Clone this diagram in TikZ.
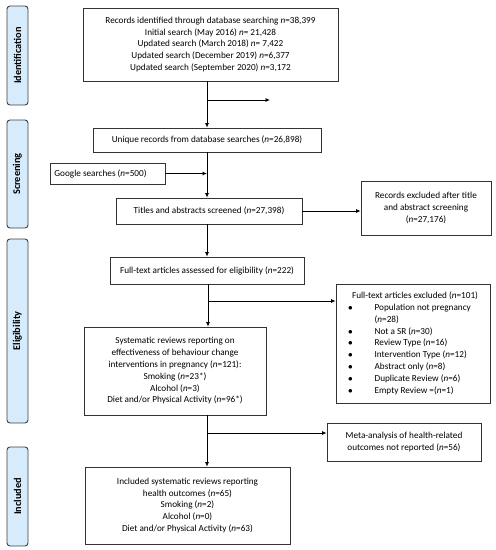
\documentclass[tikz,border=0pt]{standalone}
\usepackage{fontspec}
\setmainfont{Carlito}
\usetikzlibrary{arrows.meta}
\definecolor{sidefill}{RGB}{214,235,251}
\begin{document}
\begin{tikzpicture}[x=1pt,y=-1pt,
  box/.style={draw=black!80,line width=0.8pt,fill=white,align=center,inner sep=0pt,font=\fontsize{9.2}{11.8}\selectfont},
  side/.style={draw=black!75,line width=0.9pt,fill=sidefill,rounded corners=3pt},
  sidetext/.style={rotate=90,font=\fontsize{10.3}{12}\selectfont\bfseries},
  arr/.style={draw=black,line width=0.8pt,-{Latex[length=4.5pt,width=4pt]}},
  ln/.style={draw=black,line width=0.8pt}]
\useasboundingbox (0,0) rectangle (496,550);
% side bars
\draw[side] (7,6) rectangle (28,105);
\node[sidetext] (sidA) at (17.5,55.5) {Identification};
\draw[side] (7,120) rectangle (28,228);
\node[sidetext] (sidB) at (17.5,174) {Screening};
\draw[side] (7,239) rectangle (28,423);
\node[sidetext] (sidC) at (17.5,331) {Eligibility};
\draw[side] (7,447) rectangle (28,546);
\node[sidetext] (sidD) at (17.5,496.5) {Included};
% boxes
\node[box,minimum width=255pt,minimum height=73pt] (rec) at (210.5,44.5) {Records identified through database searching \textit{n}=38,399\\Initial search (May 2016) \textit{n}= 21,428\\Updated search (March 2018) \textit{n}= 7,422\\Updated search (December 2019) \textit{n}=6,377\\Updated search (September 2020) \textit{n}=3,172};
\node[box,minimum width=228pt,minimum height=24pt] (uni) at (207,140) {Unique records from database searches (\textit{n}=26,898)};
\node[box,minimum width=115pt,minimum height=21pt] (goo) at (107.5,173.5) {\hspace*{-14pt}Google searches (\textit{n}=500)};
\node[box,minimum width=186pt,minimum height=26pt] (tit) at (209,211) {Titles and abstracts screened (\textit{n}=27,398)};
\node[box,minimum width=130pt,minimum height=54pt] (exc) at (426,208) {Records excluded after title\\and abstract screening\\(\textit{n}=27,176)};
\node[box,minimum width=194pt,minimum height=27pt] (ful) at (207,270.5) {Full-text articles assessed for eligibility (\textit{n}=222)};
\node[box,minimum width=154pt,minimum height=119pt] (fex) at (413,343.5) {%
\begin{tabular}{@{}l@{\hspace{22pt}}l@{}}
\multicolumn{2}{@{}l@{}}{\hspace{4pt}Full-text articles excluded (\textit{n}=101)}\\
$\bullet$ & Population not pregnancy\\
 & (\textit{n}=28)\\
$\bullet$ & Not a SR (\textit{n}=30)\\
$\bullet$ & Review Type (\textit{n}=16)\\
$\bullet$ & Intervention Type (\textit{n}=12)\\
$\bullet$ & Abstract only (\textit{n}=8)\\
$\bullet$ & Duplicate Review (\textit{n}=6)\\
$\bullet$ & Empty Review =(\textit{n}=1)
\end{tabular}};
\node[box,minimum width=182pt,minimum height=88pt] (sys) at (175,371) {Systematic reviews reporting on\\effectiveness of behaviour change\\interventions in pregnancy (\textit{n}=121):\\Smoking (\textit{n}=23*)\\Alcohol (\textit{n}=3)\\Diet and/or Physical Activity (\textit{n}=96*)};
\node[box,minimum width=154pt,minimum height=38pt] (met) at (404,442) {Meta-analysis of health-related\\outcomes not reported (\textit{n}=56)};
\node[box,minimum width=205pt,minimum height=77pt] (inc) at (187.5,505.5) {Included systematic reviews reporting\\health outcomes (\textit{n}=65)\\Smoking (\textit{n}=2)\\Alcohol (\textit{n}=0)\\Diet and/or Physical Activity (\textit{n}=63)};
% connectors
\coordinate (j1) at (207,100);
\coordinate (e1) at (270,100);
\draw[arr] (rec.south -| j1) -- (uni.north -| j1);
\draw[arr] (j1) -- (e1);
\draw[arr] (goo.east) -- (207,173.5);
\draw[arr] (uni.south -| 207,0) -- (tit.north -| 207,0);
\draw[arr] (tit.east) -- (exc.west |- tit.east);
\draw[arr] (tit.south -| 207,0) -- (ful.north -| 207,0);
\coordinate (j2) at (208,301);
\draw[ln] (ful.south -| j2) -- (j2);
\draw[arr] (j2) -- (fex.west |- j2);
\draw[arr] (j2) -- (sys.north -| j2);
\coordinate (j3) at (207,433);
\draw[ln] (sys.south -| j3) -- (j3);
\draw[arr] (j3) -- (met.west |- j3);
\draw[arr] (j3) -- (inc.north -| j3);
\end{tikzpicture}
\end{document}
